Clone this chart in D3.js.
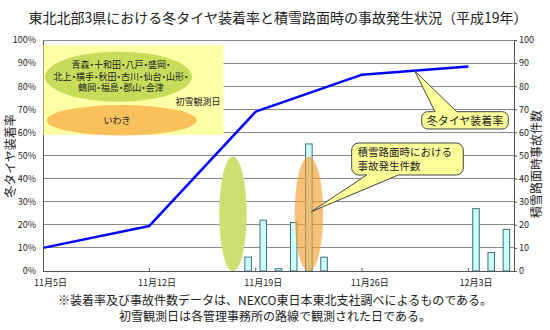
<!DOCTYPE html>
<html>
<head>
<meta charset="utf-8">
<script src="https://cdn.jsdelivr.net/npm/d3@7"></script>
<style>
  html, body { margin: 0; padding: 0; background: #fff; }
  svg text { font-family: "Noto Sans CJK JP", "Noto Sans", sans-serif; fill: #222; }
  .palt { font-feature-settings: "palt"; }
</style>
</head>
<body>
<svg id="chart" width="550" height="330"></svg>
<script>
// Daily categories, 11/5 - 12/5
const dates = [
  "11月5日","11月6日","11月7日","11月8日","11月9日","11月10日","11月11日",
  "11月12日","11月13日","11月14日","11月15日","11月16日","11月17日","11月18日",
  "11月19日","11月20日","11月21日","11月22日","11月23日","11月24日","11月25日",
  "11月26日","11月27日","11月28日","11月29日","11月30日","12月1日","12月2日",
  "12月3日","12月4日","12月5日"
];
// Accidents on snowy road surfaces per day (right axis)
const accidents = [
  0,0,0,0,0,0,0,
  0,0,0,0,0,0,6,
  22,1,21,55,6,0,0,
  0,0,0,0,0,0,0,
  27,8,18
];
// Weekly winter-tyre fitting rate (%), left axis
const rateDates = ["11月5日","11月12日","11月19日","11月26日","12月3日"];
const tyreRate = [10, 19.5, 69, 85, 88.5];

// Axis labels
const xTickLabels = ["11月5日","11月12日","11月19日","11月26日","12月3日"];
const leftTicks = [0,10,20,30,40,50,60,70,80,90,100];
const rightTicks = [0,10,20,30,40,50,60,70,80,90,100];

// First-snow observation days
const snowGroupA = ["青森・十和田・八戸・盛岡・", "北上・横手・秋田・古川・仙台・山形・", "鶴岡・福島・郡山・会津"];
const snowDateA = "11月17日";
const snowGroupB = ["いわき"];
const snowDateB = "11月22日";

const title = "東北北部3県における冬タイヤ装着率と積雪路面時の事故発生状況（平成19年）";
const notes = ["※装着率及び事故件数データは、NEXCO東日本東北支社調べによるものである。",
               "初雪観測日は各管理事務所の路線で観測された日である。"];

const svg = d3.select("#chart");
const L = 43, R = 514, T = 40, B = 271;

const x = d3.scaleBand().domain(dates).range([L, R]).paddingInner(0).paddingOuter(0);
const yL = d3.scaleLinear().domain([0, 100]).range([B, T]);
const yR = d3.scaleLinear().domain([0, 100]).range([B, T]);

// Title
svg.append("text").attr("x", 278).attr("y", 23).attr("text-anchor", "middle")
  .attr("font-size", 14).text(title);

// Gridlines
svg.append("g").selectAll("line").data(leftTicks.filter(d => d > 0)).join("line")
  .attr("x1", L).attr("x2", R).attr("y1", d => yL(d)).attr("y2", d => yL(d))
  .attr("stroke", "#8a8a8a").attr("stroke-width", 1).attr("shape-rendering", "crispEdges");

// Accident bars
const bw = x.bandwidth() * 0.43;
svg.append("g").selectAll("rect").data(dates.map((d, i) => ({d, v: accidents[i]})).filter(o => o.v > 0))
  .join("rect")
  .attr("x", o => x(o.d) + (x.bandwidth() - bw) / 2)
  .attr("y", o => yR(o.v))
  .attr("width", bw)
  .attr("height", o => B - yR(o.v))
  .attr("fill", "#ccffff").attr("stroke", "#3d6f78").attr("stroke-width", 1);

// First-snow markers in the plot
const cxA = x(snowDateA) + x.bandwidth() / 2;
const cxB = x(snowDateB) + x.bandwidth() / 2;
svg.append("ellipse").attr("cx", cxA).attr("cy", 214).attr("rx", 13.7).attr("ry", 57.5)
  .attr("fill", "#cbe070");
svg.append("ellipse").attr("cx", cxB).attr("cy", 214).attr("rx", 14.2).attr("ry", 57.5)
  .attr("fill", "#f5a033").attr("fill-opacity", 0.65);

// Tyre rate line
const line = d3.line().x((d, i) => x(rateDates[i])).y(d => yL(d));
svg.append("path").datum(tyreRate).attr("d", line)
  .attr("fill", "none").attr("stroke", "#0000ff").attr("stroke-width", 2.5)
  .attr("stroke-linejoin", "round");

// Axes lines
const axisG = svg.append("g").attr("stroke", "#555").attr("shape-rendering", "crispEdges");
axisG.append("line").attr("x1", L).attr("x2", L).attr("y1", T).attr("y2", B);
axisG.append("line").attr("x1", R).attr("x2", R).attr("y1", T).attr("y2", B);
axisG.append("line").attr("x1", L).attr("x2", R).attr("y1", B).attr("y2", B);
axisG.append("line").attr("x1", L).attr("x2", R).attr("y1", T).attr("y2", T).attr("stroke", "#8a8a8a");

// Left axis
const la = svg.append("g").attr("transform", `translate(${L},0)`)
  .call(d3.axisLeft(yL).tickValues(leftTicks).tickFormat(d => d + "%").tickSize(0).tickPadding(7));
la.select(".domain").remove();
la.selectAll("text").attr("font-size", 9).attr("fill", "#333")
  .style("font-family", "'Noto Sans CJK JP', sans-serif");

// Right axis
const ra = svg.append("g").attr("transform", `translate(${R},0)`)
  .call(d3.axisRight(yR).tickValues(rightTicks).tickSize(3).tickPadding(2));
ra.select(".domain").remove();
ra.selectAll("line").attr("stroke", "#555");
ra.selectAll("text").attr("font-size", 9).attr("fill", "#333")
  .style("font-family", "'Noto Sans CJK JP', sans-serif");

// Bottom axis: weekly labels, ticks on category boundaries
const tickDates = xTickLabels;
svg.append("g").selectAll("line").data(tickDates.slice(1)).join("line")
  .attr("x1", d => x(d)).attr("x2", d => x(d)).attr("y1", B).attr("y2", B - 3)
  .attr("stroke", "#555");
svg.append("g").selectAll("text").data(tickDates).join("text")
  .attr("x", d => x(d) + x.bandwidth() / 2).attr("y", 286)
  .attr("text-anchor", "middle").attr("font-size", 9).attr("fill", "#333").text(d => d);

// Axis titles
svg.append("text").attr("transform", "translate(15,156) rotate(-90)")
  .attr("text-anchor", "middle").attr("font-size", 12).text("冬タイヤ装着率");
svg.append("text").attr("transform", "translate(541,164) rotate(-90)")
  .attr("text-anchor", "middle").attr("font-size", 12).text("積雪路面時事故件数");

// Legend box for first-snow days
svg.append("rect").attr("x", 43.5).attr("y", 45).attr("width", 180).attr("height", 90)
  .attr("fill", "#ffffa6");
svg.append("ellipse").attr("cx", 118.5).attr("cy", 76.7).attr("rx", 73.5).attr("ry", 25)
  .attr("fill", "#c6dc5a");
svg.append("ellipse").attr("cx", 121.7).attr("cy", 120.3).attr("rx", 75).attr("ry", 15.3)
  .attr("fill", "#f5a033").attr("fill-opacity", 0.65);
svg.append("g").selectAll("text").data(snowGroupA).join("text")
  .attr("class", "palt")
  .attr("x", 121).attr("y", (d, i) => 68 + i * 11.5)
  .attr("text-anchor", "middle").attr("font-size", 9).text(d => d);
svg.append("text").attr("x", 117).attr("y", 124).attr("text-anchor", "middle")
  .attr("font-size", 9).text(snowGroupB[0]);
svg.append("text").attr("x", 198).attr("y", 105).attr("text-anchor", "middle")
  .attr("font-size", 9).text("初雪観測日");

// Callouts
function callout(x0, y0, x1, y1, r, side, bA, bB, tip) {
  const p = d3.path();
  p.moveTo(x0 + r, y0);
  if (side === "top") { p.lineTo(bA, y0); p.lineTo(tip[0], tip[1]); p.lineTo(bB, y0); }
  p.lineTo(x1 - r, y0);
  p.arcTo(x1, y0, x1, y0 + r, r);
  p.lineTo(x1, y1 - r);
  p.arcTo(x1, y1, x1 - r, y1, r);
  if (side === "bottom") { p.lineTo(bB, y1); p.lineTo(tip[0], tip[1]); p.lineTo(bA, y1); }
  p.lineTo(x0 + r, y1);
  p.arcTo(x0, y1, x0, y1 - r, r);
  p.lineTo(x0, y0 + r);
  p.arcTo(x0, y0, x0 + r, y0, r);
  p.closePath();
  return p.toString();
}
// Tyre-rate callout points at the line between 11/26 and 12/3
const tipX1 = 414.5;
const t1 = (tipX1 - x("11月26日")) / (x("12月3日") - x("11月26日"));
const tipY1 = yL(tyreRate[3] + t1 * (tyreRate[4] - tyreRate[3]));
svg.append("path").attr("d", callout(421.7, 111.7, 508.3, 129, 6, "top", 435, 456.7, [tipX1, tipY1]))
  .attr("fill", "#ffff99").attr("stroke", "#444").attr("stroke-width", 1);
svg.append("text").attr("x", 465).attr("y", 124.5).attr("text-anchor", "middle")
  .attr("font-size", 11).text("冬タイヤ装着率");

// Accident callout points at the 11/22 bar
const tip2 = [x("11月22日") + x.bandwidth() / 2 + 2.5, 211.7];
svg.append("path").attr("d", callout(351.7, 143, 463.3, 175, 7, "bottom", 366.7, 398.3, tip2))
  .attr("fill", "#ffff99").attr("stroke", "#444").attr("stroke-width", 1);
svg.append("text").attr("x", 357.5).attr("y", 155.5).attr("font-size", 10.5).text("積雪路面時における");
svg.append("text").attr("x", 357.5).attr("y", 170).attr("font-size", 10.5).text("事故発生件数");

// Notes
svg.append("g").selectAll("text").data(notes).join("text")
  .attr("x", 275).attr("y", (d, i) => 305 + i * 16)
  .attr("text-anchor", "middle").attr("font-size", 12).text(d => d);
</script>
</body>
</html>
